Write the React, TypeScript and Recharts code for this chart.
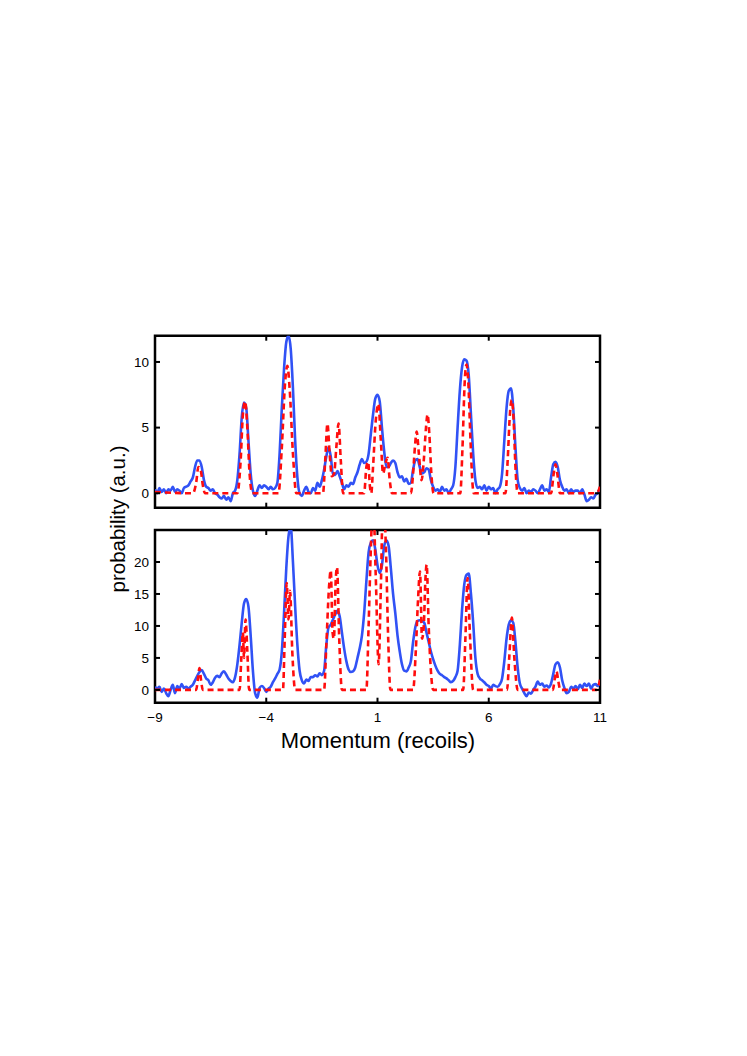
import { LineChart, Line, XAxis, YAxis, ReferenceArea } from 'recharts'

// Shared axis ticks
const X_TICKS = [-9, -4, 1, 6, 11]
const TOP_Y_TICKS = [0, 5, 10]
const BOTTOM_Y_TICKS = [0, 5, 10, 15, 20]

// Upper panel: measured (solid blue), [momentum, probability]
const TOP_MEASURED: [number, number][] = [
  [-9, 0.3], [-8.9, 0.0], [-8.8, 0.4], [-8.7, 0.1], [-8.6, 0.3], [-8.5, 0.0], [-8.4, 0.3], [-8.3, 0.2],
  [-8.2, 0.5], [-8.1, 0.1], [-8.0, 0.3], [-7.9, 0.2], [-7.8, 0.0], [-7.7, 0.4], [-7.6, 0.5], [-7.5, 0.6],
  [-7.4, 0.9], [-7.3, 1.2], [-7.2, 2.0], [-7.1, 2.5], [-7.0, 2.5], [-6.9, 2.0], [-6.8, 1.0], [-6.7, 0.5],
  [-6.6, 0.4], [-6.5, 0.2], [-6.4, 0.3], [-6.3, 0.0], [-6.2, -0.1], [-6.1, -0.3], [-6.0, -0.4], [-5.9, -0.2],
  [-5.8, -0.5], [-5.7, -0.3], [-5.6, -0.6], [-5.5, 0.0], [-5.4, 0.2], [-5.3, 1.0], [-5.2, 3.0], [-5.1, 5.8],
  [-5.0, 6.9], [-4.9, 6.5], [-4.8, 4.0], [-4.7, 1.5], [-4.6, 0.2], [-4.5, -0.2], [-4.4, 0.2], [-4.3, 0.6],
  [-4.2, 0.4], [-4.1, 0.6], [-4.0, 0.5], [-3.9, 0.3], [-3.8, 0.5], [-3.7, 0.3], [-3.6, 0.4], [-3.5, 0.8],
  [-3.4, 3.0], [-3.3, 6.5], [-3.2, 9.5], [-3.1, 11.5], [-3.0, 12.0], [-2.9, 11.0], [-2.8, 8.0], [-2.7, 4.0],
  [-2.6, 1.2], [-2.5, 0.0], [-2.4, -0.2], [-2.3, 0.2], [-2.2, 0.5], [-2.1, 0.1], [-2.0, 0.0], [-1.9, 0.4],
  [-1.8, 0.2], [-1.7, 0.8], [-1.6, 0.5], [-1.5, 1.0], [-1.4, 1.8], [-1.3, 2.8], [-1.2, 3.5], [-1.1, 2.8],
  [-1.0, 1.4], [-0.9, 1.4], [-0.8, 1.7], [-0.7, 1.3], [-0.6, 0.8], [-0.5, 0.3], [-0.4, 0.6], [-0.3, 0.5],
  [-0.2, 0.8], [-0.1, 0.7], [0.0, 1.2], [0.1, 1.6], [0.2, 2.2], [0.3, 2.6], [0.4, 2.3], [0.5, 2.4],
  [0.6, 3.0], [0.7, 4.5], [0.8, 6.0], [0.9, 7.2], [1.0, 7.5], [1.1, 7.0], [1.2, 5.0], [1.3, 3.2],
  [1.4, 2.0], [1.5, 2.0], [1.6, 2.3], [1.7, 2.5], [1.8, 2.3], [1.9, 1.6], [2.0, 1.2], [2.1, 1.3],
  [2.2, 0.9], [2.3, 1.1], [2.4, 0.7], [2.5, 0.8], [2.6, 1.8], [2.7, 2.5], [2.8, 2.6], [2.9, 2.0],
  [3.0, 1.5], [3.1, 1.6], [3.2, 1.9], [3.3, 1.8], [3.4, 1.0], [3.5, 0.5], [3.6, 0.2], [3.7, 0.3],
  [3.8, 0.1], [3.9, 0.5], [4.0, 0.2], [4.1, 0.3], [4.2, 0.0], [4.3, 0.3], [4.4, 0.6], [4.5, 2.0],
  [4.6, 5.0], [4.7, 7.8], [4.8, 9.6], [4.9, 10.2], [5.0, 10.1], [5.1, 9.0], [5.2, 6.0], [5.3, 3.0],
  [5.4, 1.0], [5.5, 0.4], [5.6, 0.5], [5.7, 0.3], [5.8, 0.6], [5.9, 0.2], [6.0, 0.5], [6.1, 0.3],
  [6.2, 0.4], [6.3, 0.0], [6.4, 0.3], [6.5, 0.5], [6.6, 1.5], [6.7, 4.0], [6.8, 6.5], [6.9, 7.8],
  [7.0, 8.0], [7.1, 6.5], [7.2, 3.5], [7.3, 1.0], [7.4, 0.4], [7.5, 0.2], [7.6, 0.4], [7.7, 0.0],
  [7.8, 0.2], [7.9, 0.1], [8.0, 0.3], [8.1, 0.2], [8.2, 0.0], [8.3, 0.3], [8.4, 0.6], [8.5, 0.2],
  [8.6, 0.3], [8.7, 0.1], [8.8, 1.2], [8.9, 2.2], [9.0, 2.4], [9.1, 2.0], [9.2, 1.0], [9.3, 0.5],
  [9.4, 0.2], [9.5, 0.3], [9.6, 0.0], [9.7, 0.3], [9.8, 0.1], [9.9, 0.2], [10.0, 0.2], [10.1, 0.0],
  [10.2, 0.3], [10.3, -0.1], [10.4, -0.6], [10.5, -0.5], [10.6, -0.3], [10.7, -0.4], [10.8, -0.1], [10.9, 0.0],
  [11.0, 0.4],
]

// Upper panel: theory (dashed red)
const TOP_THEORY: [number, number][] = [
  [-9, 0.1], [-7.3, 0], [-7.15, 0.8], [-7.05, 2.0], [-6.95, 1.8], [-6.85, 0.6], [-6.75, 0],
  [-5.3, 0], [-5.15, 2.5], [-5.05, 6.0], [-4.95, 7.0], [-4.85, 5.0], [-4.75, 1.5], [-4.62, 0],
  [-3.45, 0], [-3.3, 3.5], [-3.15, 8.5], [-3.05, 9.7], [-2.95, 8.0], [-2.8, 3.0], [-2.65, 0],
  [-1.45, 0], [-1.35, 2.5], [-1.25, 5.3], [-1.15, 3.0], [-1.05, 1.3], [-0.95, 1.5], [-0.85, 3.5],
  [-0.75, 5.3], [-0.65, 2.5], [-0.55, 0],
  [0.4, 0], [0.5, 2.0], [0.58, 2.4], [0.66, 0.5], [0.72, 0], [0.8, 2.0], [0.92, 5.5], [1.04, 6.8],
  [1.15, 4.0], [1.25, 1.5], [1.35, 2.2], [1.45, 2.7], [1.55, 1.0], [1.65, 0],
  [2.5, 0], [2.6, 1.5], [2.68, 3.5], [2.76, 4.7], [2.86, 3.0], [2.98, 1.0], [3.08, 2.5], [3.18, 5.0],
  [3.25, 6.0], [3.33, 4.5], [3.42, 1.5], [3.52, 0],
  [4.72, 0], [4.82, 3.5], [4.92, 8.5], [5.0, 9.8], [5.08, 8.5], [5.18, 4.0], [5.28, 0.5], [5.33, 0],
  [6.75, 0], [6.85, 2.5], [6.95, 6.0], [7.03, 7.1], [7.12, 5.5], [7.2, 2.0], [7.3, 0],
  [8.8, 0], [8.92, 1.5], [9.0, 2.2], [9.08, 1.5], [9.2, 0],
  [10.8, 0], [10.9, 0.1], [11.0, 0.5],
]

// Lower panel: measured (solid blue)
const BOTTOM_MEASURED: [number, number][] = [
  [-9, 0.5], [-8.9, 0.2], [-8.8, 0.5], [-8.7, -0.3], [-8.6, 0.2], [-8.5, -0.5], [-8.4, -1.0], [-8.3, 0.0],
  [-8.2, 0.8], [-8.1, -0.5], [-8.0, 0.6], [-7.9, 0.2], [-7.8, 0.9], [-7.7, 0.3], [-7.6, 0.5], [-7.5, 0.2],
  [-7.4, 0.5], [-7.3, 0.8], [-7.2, 1.5], [-7.1, 2.2], [-7.0, 2.8], [-6.9, 3.1], [-6.8, 2.5], [-6.7, 1.8],
  [-6.6, 1.5], [-6.5, 0.8], [-6.4, 1.2], [-6.3, 1.9], [-6.2, 2.2], [-6.1, 2.0], [-6.0, 2.6], [-5.9, 2.9],
  [-5.8, 2.4], [-5.7, 1.8], [-5.6, 1.4], [-5.5, 1.2], [-5.4, 2.0], [-5.3, 4.0], [-5.2, 7.0], [-5.1, 10.5],
  [-5.0, 13.5], [-4.9, 14.2], [-4.8, 13.0], [-4.7, 8.5], [-4.6, 3.0], [-4.5, -0.5], [-4.4, -1.2], [-4.3, 0.3],
  [-4.2, 0.6], [-4.1, 0.3], [-4.0, -0.3], [-3.9, 0.2], [-3.8, 0.5], [-3.7, 1.2], [-3.6, 1.8], [-3.5, 2.5],
  [-3.4, 3.2], [-3.3, 6.0], [-3.2, 12.0], [-3.1, 19.0], [-3.0, 24.0], [-2.9, 25.5], [-2.8, 20.0], [-2.7, 13.0],
  [-2.6, 7.0], [-2.5, 3.0], [-2.4, 1.5], [-2.3, 1.0], [-2.2, 1.6], [-2.1, 1.4], [-2.0, 2.0], [-1.9, 2.0],
  [-1.8, 2.3], [-1.7, 2.1], [-1.6, 2.6], [-1.5, 2.3], [-1.4, 3.0], [-1.3, 7.0], [-1.2, 9.8], [-1.1, 10.2],
  [-1.0, 11.0], [-0.9, 11.8], [-0.8, 12.4], [-0.7, 11.5], [-0.6, 9.0], [-0.5, 6.5], [-0.4, 4.5], [-0.3, 3.2],
  [-0.2, 2.8], [-0.1, 2.9], [0.0, 3.5], [0.1, 5.0], [0.2, 6.5], [0.3, 8.5], [0.4, 12.0], [0.5, 17.0],
  [0.6, 21.5], [0.7, 23.0], [0.8, 23.4], [0.9, 22.0], [1.0, 19.5], [1.1, 18.3], [1.2, 19.5], [1.3, 22.5],
  [1.4, 23.4], [1.5, 22.5], [1.6, 19.0], [1.7, 15.0], [1.8, 12.0], [1.9, 8.5], [2.0, 6.0], [2.1, 4.0],
  [2.2, 3.0], [2.3, 2.9], [2.4, 3.5], [2.5, 4.5], [2.6, 7.5], [2.7, 9.8], [2.8, 10.8], [2.9, 10.9],
  [3.0, 10.8], [3.1, 10.5], [3.2, 9.0], [3.3, 7.5], [3.4, 6.0], [3.5, 4.8], [3.6, 3.8], [3.7, 3.0],
  [3.8, 2.5], [3.9, 2.3], [4.0, 2.0], [4.1, 1.8], [4.2, 1.5], [4.3, 1.2], [4.4, 1.4], [4.5, 2.0],
  [4.6, 3.0], [4.7, 7.0], [4.8, 12.5], [4.9, 16.5], [5.0, 18.0], [5.1, 18.2], [5.2, 15.0], [5.3, 10.5],
  [5.4, 5.0], [5.5, 2.5], [5.6, 1.8], [5.7, 1.5], [5.8, 1.2], [5.9, 0.8], [6.0, 0.6], [6.1, 0.2],
  [6.2, 0.8], [6.3, 0.6], [6.4, 0.5], [6.5, 0.9], [6.6, 1.8], [6.7, 4.5], [6.8, 8.0], [6.9, 10.2],
  [7.0, 10.9], [7.1, 10.5], [7.2, 7.5], [7.3, 3.5], [7.4, 1.0], [7.5, 0.2], [7.6, -0.5], [7.7, -1.0],
  [7.8, -0.4], [7.9, -0.6], [8.0, 0.0], [8.1, 0.5], [8.2, 1.3], [8.3, 0.8], [8.4, 1.0], [8.5, 0.5],
  [8.6, 0.7], [8.7, 0.4], [8.8, 1.0], [8.9, 2.5], [9.0, 4.0], [9.1, 4.3], [9.2, 3.5], [9.3, 1.5],
  [9.4, 0.3], [9.5, -0.5], [9.6, -0.3], [9.7, 0.5], [9.8, 0.2], [9.9, 0.6], [10.0, 0.1], [10.1, 0.8],
  [10.2, 0.3], [10.3, 1.0], [10.4, 0.6], [10.5, 1.0], [10.6, 0.2], [10.7, 0.8], [10.8, 0.9], [10.9, 0.6],
  [11.0, 1.3],
]

// Lower panel: theory (dashed red)
const BOTTOM_THEORY: [number, number][] = [
  [-9, 0], [-7.15, 0], [-7.07, 1.8], [-7.0, 3.4], [-6.93, 1.5], [-6.85, 0],
  [-5.2, 0], [-5.12, 5], [-5.05, 9], [-5.0, 5], [-4.93, 11], [-4.85, 6], [-4.77, 0],
  [-3.25, 0], [-3.17, 8], [-3.08, 16.7], [-3.0, 11], [-2.93, 15.5], [-2.83, 6], [-2.7, 0],
  [-1.4, 0], [-1.3, 7], [-1.18, 16], [-1.1, 18.7], [-1.02, 9], [-0.96, 8], [-0.88, 17], [-0.82, 19.2],
  [-0.72, 8], [-0.6, 0],
  [0.5, 0], [0.6, 10], [0.7, 22], [0.8, 30], [0.92, 18], [1.05, 4], [1.15, 16], [1.25, 30], [1.38, 22],
  [1.48, 8], [1.58, 0],
  [2.6, 0], [2.72, 6], [2.82, 14], [2.91, 18.5], [3.0, 8], [3.08, 10], [3.15, 17], [3.21, 19.6], [3.3, 10],
  [3.4, 3], [3.5, 0],
  [4.85, 0], [4.95, 8], [5.05, 17.5], [5.15, 9], [5.3, 0],
  [6.82, 0], [6.92, 5], [7.04, 11.3], [7.15, 5], [7.3, 0],
  [8.88, 0], [8.97, 1.8], [9.05, 2.9], [9.12, 1.5], [9.22, 0],
  [10.85, 0], [11.0, 1.6],
]

const toPoints = (pairs: [number, number][]) => pairs.map(([x, y]) => ({ x, y }))

const WIDTH = 747
const PLOT_LEFT = 155
const PLOT_RIGHT = 600
const PLOT_BOTTOM = 187.7 // relative to each chart's top
const Y_AXIS_W = 40
const TICK_LEN = 5
const BLUE = '#3152f5'
const RED = '#ff0d0d'
const FONT = '"Liberation Sans", Arial, Helvetica, sans-serif'
const TICK_FONT = 13.5

const fmt = (v: number) => (v < 0 ? `\u2212${Math.abs(v)}` : `${v}`)

interface PanelProps {
  measured: [number, number][]
  theory: [number, number][]
  yDomain: [number, number]
  yTicks: number[]
  top: number
  height: number
  plotTop: number
  xAxisH: number
  showXLabels: boolean
}

function Panel({ measured, theory, yDomain, yTicks, top, height, plotTop, xAxisH, showXLabels }: PanelProps) {
  const XTick = (props: any) => {
    const { x, payload } = props
    return (
      <g>
        <line x1={x} x2={x} y1={PLOT_BOTTOM} y2={PLOT_BOTTOM - TICK_LEN} stroke="#000" strokeWidth={2} />
        <line x1={x} x2={x} y1={plotTop} y2={plotTop + TICK_LEN} stroke="#000" strokeWidth={2} />
        {showXLabels && (
          <text x={x} y={PLOT_BOTTOM + 14.5} dy="0.35em" textAnchor="middle" fontSize={TICK_FONT} fontFamily={FONT} fill="#000">
            {fmt(payload.value)}
          </text>
        )}
      </g>
    )
  }

  const YTick = (props: any) => {
    const { y, payload } = props
    return (
      <g>
        <line x1={PLOT_LEFT} x2={PLOT_LEFT + TICK_LEN} y1={y} y2={y} stroke="#000" strokeWidth={2} />
        <line x1={PLOT_RIGHT - TICK_LEN} x2={PLOT_RIGHT} y1={y} y2={y} stroke="#000" strokeWidth={2} />
        <text x={PLOT_LEFT - 6} y={y} dy="0.35em" textAnchor="end" fontSize={TICK_FONT} fontFamily={FONT} fill="#000">
          {fmt(payload.value)}
        </text>
      </g>
    )
  }

  return (
    <div style={{ position: 'absolute', left: 0, top }}>
      <LineChart
        width={WIDTH}
        height={height}
        margin={{
          top: plotTop,
          right: WIDTH - PLOT_RIGHT,
          bottom: height - PLOT_BOTTOM - xAxisH,
          left: PLOT_LEFT - Y_AXIS_W,
        }}
      >
        <XAxis
          type="number"
          dataKey="x"
          domain={[-9, 11]}
          ticks={X_TICKS}
          interval={0}
          allowDataOverflow
          height={xAxisH}
          axisLine={false}
          tickLine={false}
          tick={XTick}
        />
        <YAxis
          type="number"
          domain={yDomain}
          ticks={yTicks}
          interval={0}
          allowDataOverflow
          width={Y_AXIS_W}
          axisLine={false}
          tickLine={false}
          tick={YTick}
        />
        <Line
          data={toPoints(measured)}
          dataKey="y"
          type="monotone"
          stroke={BLUE}
          strokeWidth={2.6}
          dot={false}
          activeDot={false}
          isAnimationActive={false}
        />
        <Line
          data={toPoints(theory)}
          dataKey="y"
          type="monotone"
          stroke={RED}
          strokeWidth={2.6}
          strokeDasharray="6 4"
          dot={false}
          activeDot={false}
          isAnimationActive={false}
        />
        <ReferenceArea
          x1={-9}
          x2={11}
          y1={yDomain[0]}
          y2={yDomain[1]}
          fill="none"
          fillOpacity={0}
          stroke="#000"
          strokeWidth={2.5}
          ifOverflow="visible"
        />
      </LineChart>
    </div>
  )
}

export default function App() {
  return (
    <div style={{ position: 'absolute', left: 0, top: 0, width: WIDTH, height: 1056, background: '#fff' }}>
      <Panel
        measured={TOP_MEASURED}
        theory={TOP_THEORY}
        yDomain={[-1.1, 12]}
        yTicks={TOP_Y_TICKS}
        top={320}
        height={200}
        plotTop={15.7}
        xAxisH={10}
        showXLabels={false}
      />
      <Panel
        measured={BOTTOM_MEASURED}
        theory={BOTTOM_THEORY}
        yDomain={[-2, 25]}
        yTicks={BOTTOM_Y_TICKS}
        top={515}
        height={250}
        plotTop={15}
        xAxisH={40}
        showXLabels
      />
      <div
        style={{
          position: 'absolute',
          left: 118,
          top: 519,
          transform: 'translate(-50%, -50%) rotate(-90deg)',
          whiteSpace: 'nowrap',
          fontFamily: FONT,
          fontSize: 20.5,
          lineHeight: '22px',
          color: '#000',
        }}
      >
        probability (a.u.)
      </div>
      <div
        style={{
          position: 'absolute',
          left: 378,
          top: 741,
          transform: 'translate(-50%, -50%)',
          whiteSpace: 'nowrap',
          fontFamily: FONT,
          fontSize: 22,
          lineHeight: '24px',
          color: '#000',
        }}
      >
        Momentum (recoils)
      </div>
    </div>
  )
}
